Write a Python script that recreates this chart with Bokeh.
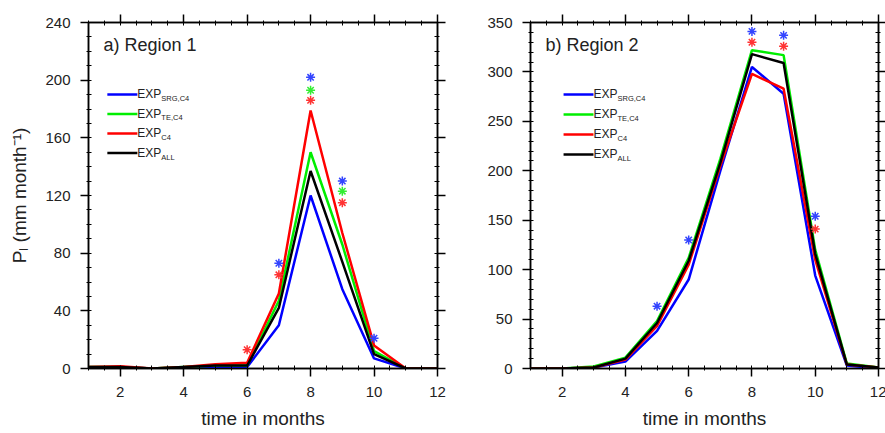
from bokeh.plotting import figure
from bokeh.layouts import row
from bokeh.models import Range1d, LinearAxis, FixedTicker
from bokeh.core.properties import value
from bokeh.embed import file_html
from bokeh.resources import INLINE

# ---------------- data ----------------
months = [1, 2, 3, 4, 5, 6, 7, 8, 9, 10, 11, 12]

r1_srg = [0.5, 1, 0, 0.5, 1, 1, 30, 120, 55, 7, 0, 0]
r1_te = [1, 1, 0, 1, 2, 2, 47, 150, 86, 12, 0, 0]
r1_c4 = [1, 1.5, 0, 1, 3, 4, 52, 179, 94, 16, 0, 0]
r1_all = [1, 1, 0, 1, 2, 2, 42, 137, 74, 10, 0, 0]

r2_srg = [0, 0, 1, 7, 38, 90, 200, 305, 278, 94, 3, 0]
r2_te = [0, 0, 2, 11, 48, 112, 212, 322, 317, 120, 5, 1]
r2_c4 = [0, 0, 1, 9, 43, 105, 205, 298, 283, 110, 4, 1]
r2_all = [0, 0, 1, 10, 46, 109, 208, 318, 309, 116, 4, 1]

# significance asterisks (month, value)
r1_star_blue_m = [7, 8, 9, 10]
r1_star_blue_v = [73, 202, 130, 21]
r1_star_green_m = [8, 9]
r1_star_green_v = [193, 123]
r1_star_red_m = [6, 7, 8, 9]
r1_star_red_v = [13, 65, 186, 115]

r2_star_blue_m = [5, 6, 8, 9, 10]
r2_star_blue_v = [63, 130, 341, 337, 154]
r2_star_green_m = []
r2_star_green_v = []
r2_star_red_m = [8, 9, 10]
r2_star_red_v = [330, 326, 141]

legend_subs = ["SRG,C4", "TE,C4", "C4", "ALL"]
series_colors = ["#0000ff", "#00ee00", "#ff0000", "#000000"]
star_colors = ["#3344ff", "#33ee33", "#ff3333"]

x_ticks = [2, 4, 6, 8, 10, 12]
x_minor = [1 + 0.5 * i for i in range(23)]
y1_ticks = [0, 40, 80, 120, 160, 200, 240]
y1_minor = list(range(0, 241, 10))
y2_ticks = [0, 50, 100, 150, 200, 250, 300, 350]
y2_minor = list(range(0, 351, 10))

FONT = "Liberation Sans"


def style_axis(ax, ticks, minor, labels=True):
    ax.ticker = FixedTicker(ticks=ticks, minor_ticks=minor)
    ax.major_tick_out = 8
    ax.major_tick_in = 0
    ax.minor_tick_in = 3
    ax.minor_tick_out = 2
    ax.axis_line_width = 1.5
    ax.axis_line_color = "black"
    ax.major_tick_line_color = "black"
    ax.minor_tick_line_color = "black"
    ax.major_tick_line_width = 1.5
    ax.minor_tick_line_width = 1
    ax.major_label_text_font = FONT
    ax.major_label_text_font_size = "15px"
    ax.major_label_text_color = "#222222"
    ax.major_label_standoff = 10
    if not labels:
        ax.major_label_text_alpha = 0.0
        ax.major_label_text_font_size = "1px"
        ax.major_label_standoff = 0


def panel(title, series, stars, y_max, y_ticks, y_minor, ylabel,
          border_left, frame_w, border_right, leg_x0, leg_x1, leg_top, leg_step):
    p = figure(frame_width=frame_w, frame_height=346,
               min_border_left=border_left, min_border_right=border_right,
               min_border_top=22, min_border_bottom=65,
               x_range=Range1d(1, 12), y_range=Range1d(0, y_max),
               output_backend="svg", toolbar_location=None,
               x_axis_location=None, y_axis_location=None)
    p.xgrid.visible = False
    p.ygrid.visible = False
    p.outline_line_color = "black"
    p.outline_line_width = 1.5
    p.background_fill_color = "white"
    p.border_fill_color = "white"

    bottom = LinearAxis()
    style_axis(bottom, x_ticks, x_minor)
    bottom.axis_label = "time in months"
    bottom.axis_label_text_font = FONT
    bottom.axis_label_text_font_style = "normal"
    bottom.axis_label_text_font_size = "19px"
    bottom.axis_label_text_color = "#222222"
    bottom.axis_label_standoff = 8
    p.add_layout(bottom, "below")

    left = LinearAxis()
    style_axis(left, y_ticks, y_minor)
    if ylabel:
        left.axis_label = ylabel
        left.axis_label_text_font = FONT
        left.axis_label_text_font_style = "normal"
        left.axis_label_text_font_size = "19px"
        left.axis_label_text_color = "#222222"
        left.axis_label_standoff = 12
    p.add_layout(left, "left")

    top = LinearAxis()
    style_axis(top, x_ticks, x_minor, labels=False)
    p.add_layout(top, "above")
    right = LinearAxis()
    style_axis(right, y_ticks, y_minor, labels=False)
    p.add_layout(right, "right")

    for vals, col in zip(series, series_colors):
        p.line(months, vals, line_color=col, line_width=2.5)

    for (sm, sv), col in zip(stars, star_colors):
        if sm:
            p.scatter(sm, sv, marker="asterisk", size=9, line_color=col,
                      line_width=1.5)

    # legend (drawn manually to allow subscripts)
    for i, (sub, col) in enumerate(zip(legend_subs, series_colors)):
        yfrac = 1 - (leg_top + i * leg_step)
        yy = yfrac * y_max
        xa = 1 + leg_x0 * 11
        xb = 1 + leg_x1 * 11
        p.line([xa, xb], [yy, yy], line_color=col, line_width=2.5)
        p.text([xb], [yy], text=["EXP"], text_font=value(FONT),
               text_font_size="12px", text_baseline="middle",
               text_align="left", text_color="#222222", x_offset=0)
        p.text([xb], [yy], text=[sub], text_font=value(FONT),
               text_font_size="7.5px", text_baseline="middle",
               text_align="left", text_color="#222222", x_offset=24, y_offset=4)

    p.text([1 + 0.043 * 11], [(1 - 0.066) * y_max], text=[title],
           text_font=value(FONT), text_font_size="18px",
           text_baseline="middle", text_align="left", text_color="#222222")
    return p


p1 = panel("a) Region 1", [r1_srg, r1_te, r1_c4, r1_all],
           [(r1_star_blue_m, r1_star_blue_v), (r1_star_green_m, r1_star_green_v),
            (r1_star_red_m, r1_star_red_v)],
           240, y1_ticks, y1_minor, "P\u2097 (mm month\u207b\u00b9)",
           88, 349, 20, 0.054, 0.14, 0.208, 0.0564)
p2 = panel("b) Region 2", [r2_srg, r2_te, r2_c4, r2_all],
           [(r2_star_blue_m, r2_star_blue_v), (r2_star_green_m, r2_star_green_v),
            (r2_star_red_m, r2_star_red_v)],
           350, y2_ticks, y2_minor, None,
           73, 348, 7, 0.095, 0.181, 0.208, 0.0578)

layout = row(p1, p2)
open("out.html", "w").write(file_html(layout, INLINE))
